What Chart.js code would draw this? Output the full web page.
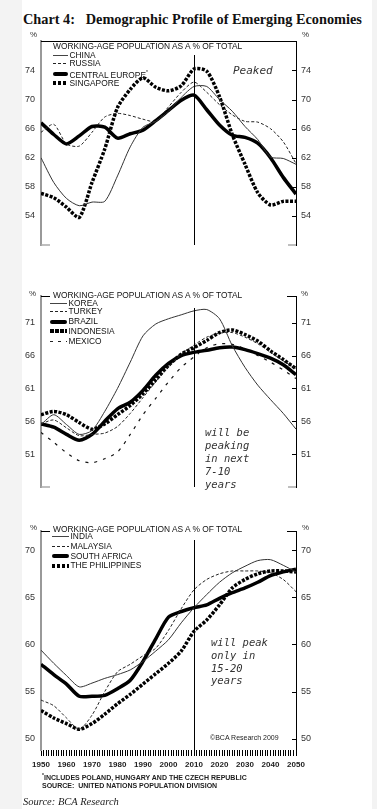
<!DOCTYPE html>
<html>
<head>
<meta charset="utf-8">
<script src="https://cdn.jsdelivr.net/npm/chart.js@4.4.1/dist/chart.umd.min.js"></script>
<style>
html, body { margin: 0; padding: 0; }
body { width: 377px; height: 809px; background: #f3f3f3; position: relative; overflow: hidden; font-family: "Liberation Sans", Arial, sans-serif; }
#page { position: absolute; left: 22px; top: 0; width: 350px; height: 809px; background: #fff; }
canvas { position: absolute; left: 0; }
.t { position: absolute; white-space: nowrap; color: #111; }
.pct { font-size: 8px; color: #333; }
.lgTitle { font-size: 8.4px; }
.lgRow { position: absolute; font-size: 8.4px; line-height: 9px; white-space: nowrap; color: #111; }
.lgRow span.s { position: absolute; top: 50%; }
.note { font-family: "DejaVu Sans Mono", monospace; font-style: italic; font-size: 10.5px; color: #333; }
</style>
</head>
<body>
<div id="page"></div>
<div class="t" style="left:23px;top:11px;font:bold 14.3px 'Liberation Serif',serif;">Chart 4:&nbsp;&nbsp; Demographic Profile of Emerging Economies</div>

<canvas id="c1" width="377" height="250" style="top:30px"></canvas>
<canvas id="c2" width="377" height="240" style="top:285px"></canvas>
<canvas id="c3" width="377" height="258" style="top:520px"></canvas>

<div class="t pct" style="left:30px;top:30px">%</div>
<div class="t pct" style="left:302px;top:30px">%</div>
<div class="t pct" style="left:29px;top:289px">%</div>
<div class="t pct" style="left:301px;top:289px">%</div>
<div class="t pct" style="left:30px;top:523px">%</div>
<div class="t pct" style="left:302px;top:523px">%</div>

<div class="t lgTitle" style="left:53px;top:41px">WORKING-AGE POPULATION AS A % OF TOTAL</div>
<div class="t lgTitle" style="left:53px;top:290px">WORKING-AGE POPULATION AS A % OF TOTAL</div>
<div class="t lgTitle" style="left:53px;top:524px">WORKING-AGE POPULATION AS A % OF TOTAL</div>
<div id="legends"></div>

<div class="t note" style="left:233px;top:64px;font-size:11px">Peaked</div>
<div class="t note" style="left:205px;top:426px;line-height:13px">will be<br>peaking<br>in next<br>7-10<br>years</div>
<div class="t note" style="left:211px;top:636px;line-height:12.8px">will peak<br>only in<br>15-20<br>years</div>
<div class="t" style="left:210px;top:734px;font-size:7px;color:#222">©BCA Research 2009</div>

<div class="t" style="left:42px;top:772px;font-size:7px;font-weight:bold;line-height:7.6px;color:#222"><sup style="font-size:5px">*</sup>INCLUDES POLAND, HUNGARY AND THE CZECH REPUBLIC<br>SOURCE:&nbsp; UNITED NATIONS POPULATION DIVISION</div>
<div class="t" style="left:23px;top:796px;font:italic 10.5px 'Liberation Serif',serif;color:#222">Source: BCA Research</div>

<script>
const years = [1950, 1955, 1960, 1965, 1970, 1975, 1980, 1985, 1990, 1995, 2000,
  2005, 2010, 2015, 2020, 2025, 2030, 2035, 2040, 2045, 2050];
const dividerYear = 2010;

// panel 1
const china = [62.0, 58.6, 56.4, 55.4, 55.9, 56.0, 59.5, 63.5, 66.2, 67.0, 68.4, 70.3, 71.8, 71.8, 70.0, 68.4, 66.3, 64.5, 62.1, 61.9, 61.1];
const russia = [65.5, 66.6, 63.9, 63.6, 65.5, 67.6, 68.1, 67.8, 67.3, 67.0, 69.0, 71.0, 72.4, 71.0, 69.3, 67.9, 67.0, 66.9, 66.0, 64.2, 61.2];
const centralEurope = [66.8, 65.2, 63.9, 65.0, 66.3, 66.2, 64.7, 65.3, 65.8, 67.1, 68.5, 69.9, 70.6, 68.6, 66.5, 65.1, 64.8, 64.0, 62.0, 59.3, 57.0];
const singapore = [57.1, 56.5, 55.2, 53.8, 58.6, 63.2, 68.9, 71.4, 73.0, 71.7, 71.2, 71.9, 74.2, 73.9, 70.4, 65.2, 61.1, 57.2, 55.5, 56.0, 56.0];
const ticks1 = [54, 58, 62, 66, 70, 74];

// panel 2
const korea = [55.5, 57.0, 55.5, 54.0, 54.6, 57.5, 61.0, 65.0, 69.0, 70.8, 71.6, 72.2, 72.8, 73.0, 71.6, 67.5, 64.2, 61.5, 59.3, 57.2, 54.8];
const turkey = [55.6, 56.2, 55.0, 53.8, 54.0, 54.2, 55.2, 57.2, 59.6, 62.0, 64.3, 66.2, 67.6, 68.8, 69.4, 69.5, 68.8, 67.8, 66.5, 65.2, 64.0];
const brazil = [55.6, 55.1, 54.0, 53.1, 54.0, 56.0, 57.9, 58.9, 60.7, 63.0, 64.8, 66.0, 66.5, 66.8, 67.2, 67.3, 66.9, 66.3, 65.6, 64.6, 63.1];
const indonesia = [57.0, 57.5, 57.0, 55.8, 54.8, 55.6, 57.0, 58.4, 60.2, 62.3, 64.5, 66.2, 67.2, 68.3, 69.5, 69.9, 69.2, 68.2, 66.7, 65.4, 64.0];
const mexico = [54.3, 52.8, 51.2, 50.0, 49.7, 50.3, 51.3, 54.0, 57.0, 59.5, 62.0, 64.2, 65.8, 67.2, 67.8, 67.7, 67.0, 66.0, 65.0, 63.8, 62.5];
const ticks2 = [51, 56, 61, 66, 71];

// panel 3
const india = [59.4, 58.0, 56.7, 55.5, 55.9, 56.4, 56.8, 57.3, 58.2, 59.3, 60.5, 62.3, 63.9, 65.3, 66.6, 67.6, 68.3, 68.9, 69.0, 68.4, 67.7];
const malaysia = [54.1, 53.5, 52.2, 51.0, 52.5, 55.0, 57.1, 57.9, 58.8, 59.6, 61.5, 63.8, 65.8, 66.9, 67.5, 67.8, 67.8, 67.8, 67.6, 66.9, 65.6];
const southAfrica = [57.9, 56.8, 55.8, 54.5, 54.5, 54.6, 55.3, 56.2, 58.2, 60.6, 62.9, 63.5, 63.9, 64.2, 64.9, 65.5, 66.0, 66.6, 67.3, 67.7, 68.0];
const philippines = [53.0, 52.2, 51.6, 51.0, 51.6, 52.6, 53.7, 54.7, 55.8, 56.9, 58.0, 59.3, 61.4, 62.6, 64.2, 66.0, 66.9, 67.5, 67.8, 67.8, 67.7];
const ticks3 = [50, 55, 60, 65, 70];

const lineStyles = {
  thin:  { borderWidth: 1, borderColor: '#333', borderDash: [] },
  dash:  { borderWidth: 1, borderColor: '#222', borderDash: [3, 2] },
  wide:  { borderWidth: 1.2, borderColor: '#111', borderDash: [3, 6] },
  thick: { borderWidth: 3.5, borderColor: '#000', borderDash: [] },
  dots:  { borderWidth: 3.5, borderColor: '#000', borderDash: [3, 1.5] }
};
const sampleCss = {
  thin: 'height:1px;background:#444;margin-top:-0.5px',
  dash: 'height:1px;background:repeating-linear-gradient(90deg,#222 0 3px,transparent 3px 5px);margin-top:-0.5px',
  wide: 'height:1.2px;background:repeating-linear-gradient(90deg,#222 0 3px,transparent 3px 8px);margin-top:-0.5px',
  thick: 'height:4px;background:#000;border-radius:2px;margin-top:-2px',
  dots: 'height:4px;background:repeating-linear-gradient(90deg,#000 0 3.5px,transparent 3.5px 5px);margin-top:-2px'
};

const frame = {
  id: 'frame',
  afterDatasetsDraw(chart, args, o) {
    const { ctx, chartArea: a, scales } = chart;
    ctx.save();
    ctx.lineWidth = 1;
    ctx.strokeStyle = '#000';
    const xd = Math.round(scales.x.getPixelForValue(dividerYear)) + 0.5;
    ctx.beginPath();
    ctx.moveTo(xd, o.dividerTop);
    ctx.lineTo(xd, a.bottom);
    ctx.stroke();
    // top border
    const yt = Math.round(a.top) + 0.5;
    ctx.beginPath();
    if (o.topFull) {
      ctx.moveTo(a.left, yt); ctx.lineTo(a.right, yt);
    } else {
      ctx.moveTo(a.left, yt); ctx.lineTo(a.left + 9, yt);
      ctx.moveTo(a.right - 9, yt); ctx.lineTo(a.right, yt);
    }
    ctx.stroke();
    // inner ticks on right axis
    scales.y2.ticks.forEach(t => {
      const y = Math.round(scales.y2.getPixelForValue(t.value)) + 0.5;
      ctx.beginPath(); ctx.moveTo(a.right - 4, y); ctx.lineTo(a.right, y); ctx.stroke();
    });
    if (o.bottomStubs) {
      ctx.strokeStyle = '#aaa';
      ctx.lineWidth = 1.5;
      const yb = a.bottom;
      ctx.beginPath();
      ctx.moveTo(a.left, yb); ctx.lineTo(a.left + 9, yb);
      ctx.moveTo(a.right - 8, yb); ctx.lineTo(a.right, yb);
      ctx.stroke();
    }
    ctx.restore();
  }
};

function makePanel(id, names, series, kinds, yMin, yMax, tickVals, opt) {
  const datasets = series.map((s, i) => Object.assign({
    label: names[i],
    data: s.map((v, j) => ({ x: years[j], y: v })),
    pointRadius: 0,
    tension: 0.25,
    borderCapStyle: 'butt',
    fill: false
  }, lineStyles[kinds[i]]));
  const tickFont = { family: 'Liberation Sans', size: 9 };
  const yAxis = (pos, w, border) => ({
    type: 'linear', position: pos, min: yMin, max: yMax,
    afterBuildTicks: s => { s.ticks = tickVals.map(v => ({ value: v })); },
    afterFit: s => { s.width = w; },
    grid: { display: false, drawTicks: false },
    border: border,
    ticks: { color: '#333', font: tickFont, padding: pos === 'left' ? 6 : 5 }
  });
  new Chart(document.getElementById(id), {
    type: 'line',
    data: { datasets },
    options: {
      responsive: false,
      animation: false,
      events: [],
      layout: { padding: { top: opt.padTop, bottom: opt.padBottom, left: 0, right: 0 } },
      plugins: {
        legend: { display: false },
        tooltip: { enabled: false },
        frame: { dividerTop: opt.dividerTop, topFull: opt.topFull, bottomStubs: !opt.xLabels }
      },
      scales: {
        x: {
          type: 'linear', min: 1950, max: 2050,
          display: opt.xLabels,
          afterFit: s => { s.height = 28; },
          border: { display: false },
          grid: { drawOnChartArea: false, tickLength: 6, color: '#000', lineWidth: 1 },
          ticks: {
            stepSize: 1, autoSkip: false, maxRotation: 0, minRotation: 0, padding: 4,
            color: '#222', font: { family: 'Liberation Sans', size: 8, weight: 'bold' },
            callback: v => (v % 10 === 0 ? String(v) : '')
          }
        },
        y: yAxis('left', 41, { color: '#999', width: 2 }),
        y2: yAxis('right', 81, { color: '#000', width: 1 })
      }
    },
    plugins: [frame]
  });
}

makePanel('c1', ['CHINA', 'RUSSIA', 'CENTRAL EUROPE*', 'SINGAPORE'],
  [china, russia, centralEurope, singapore], ['thin', 'dash', 'thick', 'dots'],
  50, 78, ticks1, { padTop: 8.5, padBottom: 7, dividerTop: 25, topFull: true, xLabels: false });
makePanel('c2', ['KOREA', 'TURKEY', 'BRAZIL', 'INDONESIA', 'MEXICO'],
  [korea, turkey, brazil, indonesia, mexico], ['thin', 'dash', 'thick', 'dots', 'wide'],
  46, 75, ticks2, { padTop: 10, padBottom: 10, dividerTop: 23, topFull: false, xLabels: false });
makePanel('c3', ['INDIA', 'MALAYSIA', 'SOUTH AFRICA', 'THE PHILIPPINES'],
  [india, malaysia, southAfrica, philippines], ['thin', 'dash', 'thick', 'dots'],
  48.8, 72, ticks3, { padTop: 9, padBottom: 0, dividerTop: 20, topFull: false, xLabels: true });

// legends
const legendRows = [
  { x: 53, w: 15, names: ['CHINA', 'RUSSIA', 'CENTRAL EUROPE<sup style="font-size:5px">*</sup>', 'SINGAPORE'], kinds: ['thin', 'dash', 'thick', 'dots'], ys: [55, 63.5, 72.3, 83] },
  { x: 50, w: 17, names: ['KOREA', 'TURKEY', 'BRAZIL', 'INDONESIA', 'MEXICO'], kinds: ['thin', 'dash', 'thick', 'dots', 'wide'], ys: [303.3, 311.7, 321.7, 331, 341] },
  { x: 52, w: 17, names: ['INDIA', 'MALAYSIA', 'SOUTH AFRICA', 'THE PHILIPPINES'], kinds: ['thin', 'dash', 'thick', 'dots'], ys: [536.7, 546, 556, 565.7] }
];
let html = '';
legendRows.forEach(g => {
  g.names.forEach((n, i) => {
    html += '<div class="lgRow" style="left:' + g.x + 'px;top:' + (g.ys[i] - 4.5) + 'px;padding-left:' + (g.w + 1.5) + 'px">' +
      '<span class="s" style="left:0;width:' + g.w + 'px;' + sampleCss[g.kinds[i]] + '"></span>' + n + '</div>';
  });
});
document.getElementById('legends').innerHTML = html;
</script>
</body>
</html>
